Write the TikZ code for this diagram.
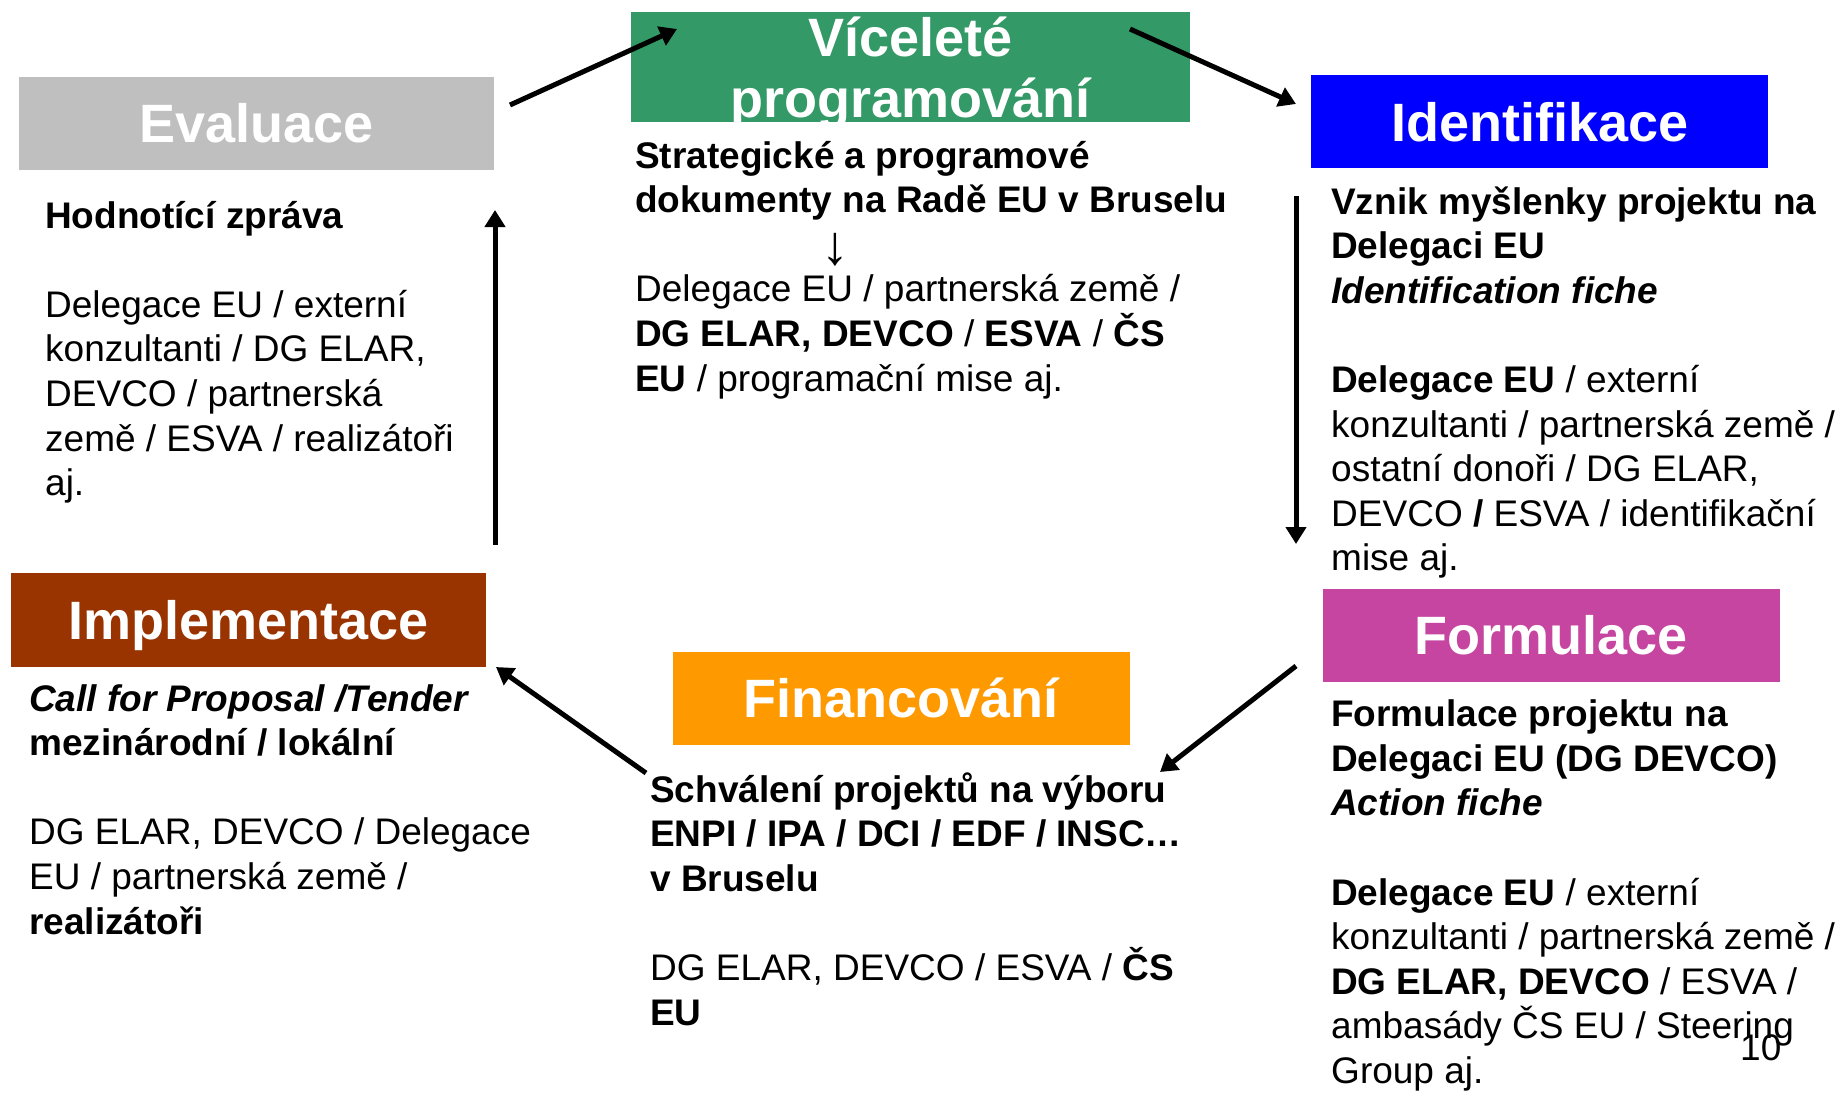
\documentclass[tikz,border=0pt]{standalone}
\usepackage{fontspec}
\usepackage{graphicx}
\setmainfont{Liberation Sans}
\usetikzlibrary{arrows.meta}
\definecolor{evalgray}{RGB}{191,191,191}
\definecolor{progreen}{RGB}{51,153,102}
\definecolor{idblue}{RGB}{0,0,255}
\definecolor{impbrown}{RGB}{153,51,0}
\definecolor{finorange}{RGB}{255,153,0}
\definecolor{formmagenta}{RGB}{197,69,160}
\begin{document}
\begin{tikzpicture}[x=1pt,y=-1pt,
  stagebox/.style={rectangle, inner sep=0pt, text=white,
    font=\fontsize{54}{61}\selectfont\bfseries, text height=38.7pt, text depth=0pt},
  bodytext/.style={anchor=base west, inner sep=0pt, font=\fontsize{37}{44.6}\selectfont},
  flowarrow/.style={line width=5pt, -{Triangle[length=17pt,width=20pt]}}]
\useasboundingbox (0,0) rectangle (1840,1093);
\fill[white] (0,0) rectangle (1840,1093);

% stage boxes
\node[stagebox, fill=evalgray, minimum width=475.7pt, minimum height=93pt] (eval) at (256.6,123.5) {Evaluace};
\node[stagebox, fill=progreen, minimum width=559pt, minimum height=110pt] (vic) at (910.5,66.6) {};
\node[anchor=base, inner sep=0pt, text=white, font=\fontsize{54}{61}\selectfont\bfseries] (victxt) at (910.5,56)
  {\parbox[t]{540pt}{\centering Víceleté\\programování}};
\node[stagebox, fill=idblue, minimum width=456.6pt, minimum height=93.4pt] (ident) at (1539.7,121.7) {Identifikace};
\node[stagebox, fill=impbrown, minimum width=475.4pt, minimum height=94pt] (impl) at (248.3,620) {Implementace};
\node[stagebox, fill=finorange, minimum width=457pt, minimum height=93pt] (fin) at (901,698) {Financování};
\node[stagebox, fill=formmagenta, minimum width=457pt, minimum height=93pt] (form) at (1551,635) {Formulace};

% body texts
\node[bodytext] (evaltxt) at (45,228) {\parbox[t]{800pt}{%
  \textbf{Hodnotící zpráva}\\[44.6pt]
  Delegace EU / externí\\
  konzultanti / DG ELAR,\\
  DEVCO / partnerská\\
  země / ESVA / realizátoři\\
  aj.}};
\node[bodytext] (victext) at (635,168) {\parbox[t]{800pt}{%
  \textbf{Strategické a programové}\\
  \textbf{dokumenty na Radě EU v Bruselu}\\
  \hspace*{186pt}\raisebox{-7pt}{\scalebox{1.5}{↓}}\\
  Delegace EU / partnerská země /\\
  \textbf{DG ELAR, DEVCO} / \textbf{ESVA} / \textbf{ČS}\\
  \textbf{EU} / programační mise aj.}};
\node[bodytext] (identtxt) at (1331,214) {\parbox[t]{800pt}{%
  \textbf{Vznik myšlenky projektu na}\\
  \textbf{Delegaci EU}\\
  \textbf{\itshape Identification fiche}\\[44.6pt]
  \textbf{Delegace EU} / externí\\
  konzultanti / partnerská země /\\
  ostatní donoři / DG ELAR,\\
  DEVCO \textbf{/} ESVA / identifikační\\
  mise aj.}};
\node[bodytext] (impltxt) at (29,711) {\parbox[t]{800pt}{%
  \textbf{\itshape Call for Proposal /Tender}\\
  \textbf{mezinárodní / lokální}\\[44.6pt]
  DG ELAR, DEVCO / Delegace\\
  EU / partnerská země /\\
  \textbf{realizátoři}}};
\node[bodytext] (fintxt) at (650,802) {\parbox[t]{800pt}{%
  \textbf{Schválení projektů na výboru}\\
  \textbf{ENPI / IPA / DCI / EDF / INSC…}\\
  \textbf{v Bruselu}\\[44.6pt]
  DG ELAR, DEVCO / ESVA / \textbf{ČS}\\
  \textbf{EU}}};
\node[bodytext] (formtxt) at (1331,726.6) {\parbox[t]{800pt}{%
  \textbf{Formulace projektu na}\\
  \textbf{Delegaci EU (DG DEVCO)}\\
  \textbf{\itshape Action fiche}\\[44.6pt]
  \textbf{Delegace EU} / externí\\
  konzultanti / partnerská země /\\
  \textbf{DG ELAR, DEVCO} / ESVA /\\
  ambasády ČS EU / Steering\\
  Group aj.}};
\node[bodytext] (pagenum) at (1740,1060) {10};

% arrow end points
\coordinate (a1s) at (510,105);  \coordinate (a1e) at (677,29);
\coordinate (a2s) at (1130,29);  \coordinate (a2e) at (1296,104);
\coordinate (a3s) at (1296,196); \coordinate (a3e) at (1296,544);
\coordinate (a4s) at (1296,666); \coordinate (a4e) at (1160,772);
\coordinate (a5s) at (646,773);  \coordinate (a5e) at (496,667);
\coordinate (a6s) at (495,545);  \coordinate (a6e) at (495,210);

\draw[flowarrow] (a1s) -- (a1e);
\draw[flowarrow] (a2s) -- (a2e);
\draw[flowarrow] (a3s) -- (a3e);
\draw[flowarrow] (a4s) -- (a4e);
\draw[flowarrow] (a5s) -- (a5e);
\draw[flowarrow] (a6s) -- (a6e);
\end{tikzpicture}
\end{document}
